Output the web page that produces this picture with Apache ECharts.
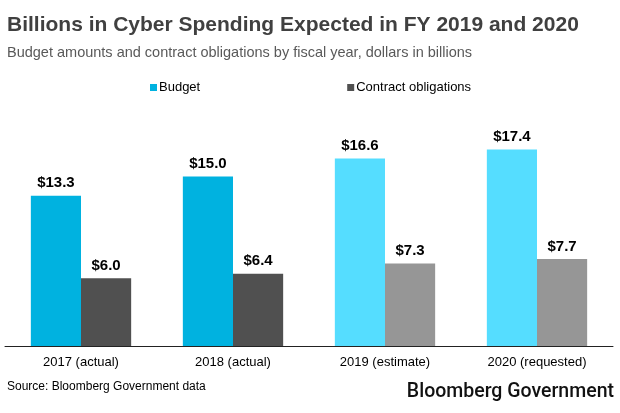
<!DOCTYPE html>
<html>
<head>
<meta charset="utf-8">
<script src="https://cdn.jsdelivr.net/npm/echarts@6/dist/echarts.min.js"></script>
<style>
  html, body { margin: 0; padding: 0; background: #fff; }
  #chart { width: 620px; height: 413px; }
</style>
</head>
<body>
<div id="chart"></div>
<script>
const years = ['2017 (actual)', '2018 (actual)', '2019 (estimate)', '2020 (requested)'];
const budget = [13.3, 15.0, 16.6, 17.4];
const contracts = [6.0, 6.4, 7.3, 7.7];
// the last two years are projections, drawn in lighter shades
const projected = [false, false, true, true];

const chart = echarts.init(document.getElementById('chart'));

const toItems = (vals, dark, light) =>
  vals.map((v, i) => ({ value: v, itemStyle: { color: projected[i] ? light : dark } }));

const barLabel = {
  show: true,
  position: 'top',
  distance: 5,
  color: '#000',
  fontFamily: 'Liberation Sans',
  fontWeight: 'bold',
  fontSize: 15,
  formatter: p => '$' + p.value.toFixed(1)
};

chart.setOption({
  animation: false,
  title: [
    {
      text: 'Billions in Cyber Spending Expected in FY 2019 and 2020',
      left: 7, top: 15, padding: 0,
      textStyle: { fontFamily: 'Liberation Sans', fontWeight: 'bold', fontSize: 21, color: '#404040' }
    },
    {
      text: 'Budget amounts and contract obligations by fiscal year, dollars in billions',
      left: 7, top: 45, padding: 0,
      textStyle: { fontFamily: 'Liberation Sans', fontWeight: 'normal', fontSize: 14.5, color: '#595959' }
    },
    {
      text: 'Source: Bloomberg Government data',
      left: 7, top: 381, padding: 0,
      textStyle: { fontFamily: 'Liberation Sans', fontWeight: 'normal', fontSize: 12, color: '#000' }
    },
    {
      text: 'Bloomberg Government',
      right: 6, top: 382, padding: 0,
      textStyle: { fontFamily: 'Roboto', fontWeight: 500, fontSize: 19.5, color: '#111' }
    }
  ],
  legend: {
    left: 150, top: 81, padding: 0,
    itemWidth: 7, itemHeight: 7, itemGap: 147,
    icon: 'rect',
    textStyle: { fontFamily: 'Liberation Sans', fontSize: 13, color: '#000', padding: [0, 0, 0, -3] },
    data: ['Budget', 'Contract obligations']
  },
  grid: { left: 5, right: 7, top: 120, bottom: 67 },
  xAxis: {
    type: 'category',
    data: years,
    axisLine: { lineStyle: { color: '#222', width: 1 } },
    axisTick: { show: false },
    axisLabel: { margin: 10, fontFamily: 'Liberation Sans', fontSize: 13, color: '#000' }
  },
  yAxis: {
    type: 'value',
    min: 0, max: 20,
    show: false,
    splitLine: { show: false }
  },
  series: [
    {
      name: 'Budget',
      type: 'bar',
      itemStyle: { color: '#00B2E0' },
      barGap: '0%',
      barCategoryGap: '34%',
      label: barLabel,
      data: toItems(budget, '#00B2E0', '#55DDFF')
    },
    {
      name: 'Contract obligations',
      type: 'bar',
      itemStyle: { color: '#505050' },
      label: barLabel,
      data: toItems(contracts, '#505050', '#969696')
    }
  ]
});
</script>
</body>
</html>
